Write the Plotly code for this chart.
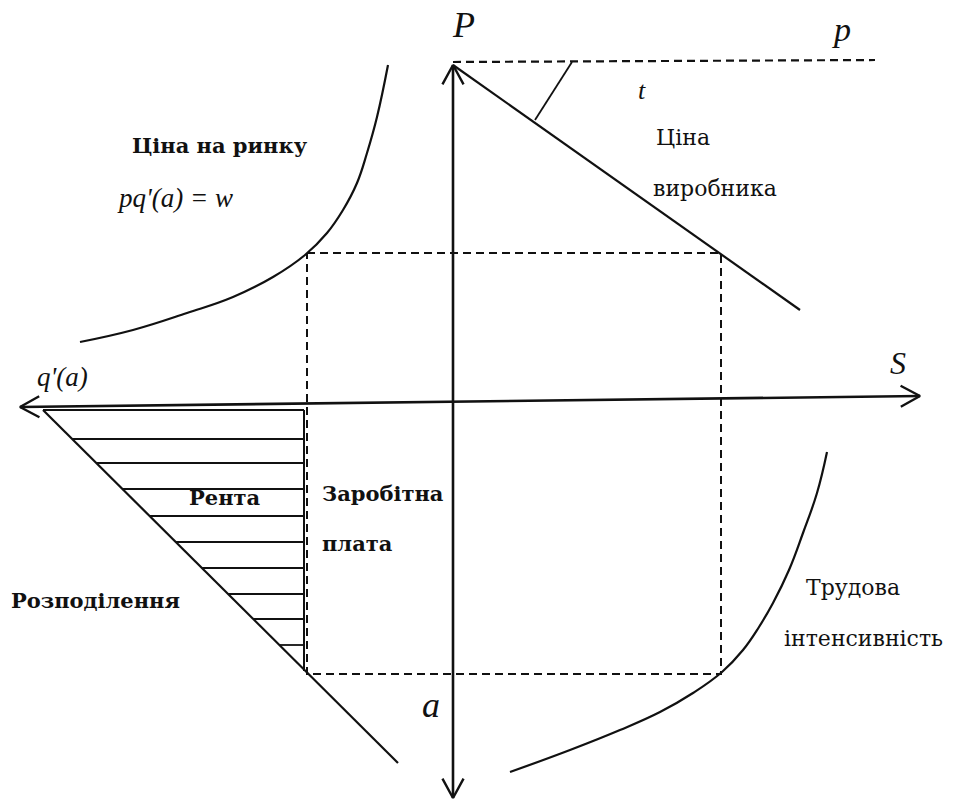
import numpy as np
import plotly.graph_objects as go

# diagram coordinates: origin at the crossing of the axes, y up
axis_v = [(0, 340), (0, -393)]          # P axis (top) / a axis (bottom)
axis_h = [(-433, -2), (467, 9)]         # q'(a) (left) / S (right)

price_line_x = [0, 422]
price_line_y = [343, 345]

producer_x = [0, 347]
producer_y = [340, 95]

angle_mark_x = [119, 82]
angle_mark_y = [343, 285]

market_x = [-373, -320, -266, -220, -180, -148, -126, -110, -96, -86, -76, -65]
market_y = [63, 75, 92, 108, 128, 150, 172, 195, 222, 252, 288, 340]

labour_x = [57, 117, 167, 207, 240, 269, 290, 306, 320, 336, 350, 364, 374]
labour_y = [-367, -345, -325, -307, -288, -267, -245, -222, -198, -165, -128, -88, -47]

distribution_x = [-410, -55]
distribution_y = [-5, -358]

rect_x = [-146, 268, 268, -146, -146]
rect_y = [152, 152, -269, -269, 152]

wage_edge_x = -149
hatch_levels = [-5, -34, -58, -84, -111, -137, -163, -189, -214, -240]

# (text, x, y, size, style)
labels = [
    ("P", 10, 380, 36, "italic"),
    ("p", 388, 376, 34, "italic"),
    ("S", 445, 42, 32, "italic"),
    ("a", -22, -300, 36, "italic"),
    ("q'(a)", -391, 28, 27, "italic"),
    ("t", 189, 315, 26, "italic"),
    ("Ціна на ринку", -233, 260, 21, "bold"),
    ("pq'(a) = w", -278, 207, 27, "italic"),
    ("Ціна", 230, 268, 22, "normal"),
    ("виробника", 262, 217, 22, "normal"),
    ("Рента", -228, -92, 21, "bold"),
    ("Заробітна", -70, -88, 21, "bold"),
    ("плата", -96, -138, 21, "bold"),
    ("Розподілення", -358, -195, 21, "bold"),
    ("Трудова", 400, -182, 22, "normal"),
    ("інтенсивність", 410, -233, 22, "normal"),
]

INK = "#111111"
fig = go.Figure()


def line(x, y, width=2.2, dash="solid", shape="linear"):
    fig.add_trace(go.Scatter(x=x, y=y, mode="lines", hoverinfo="skip",
                             line=dict(color=INK, width=width, dash=dash, shape=shape,
                                       smoothing=1.2 if shape == "spline" else None)))


def arrow_head(tip, tail, size=22, spread=0.5):
    d = np.array(tail, float) - np.array(tip, float)
    ang = np.arctan2(d[1], d[0])
    pts = []
    for s in (spread, -spread):
        pts.append((tip[0] + size * np.cos(ang + s), tip[1] + size * np.sin(ang + s)))
    line([pts[0][0], tip[0], pts[1][0]], [pts[0][1], tip[1], pts[1][1]], width=2.4)


# axes with open arrowheads at both ends
for a in (axis_v, axis_h):
    line([a[0][0], a[1][0]], [a[0][1], a[1][1]], width=2.6)
    arrow_head(a[0], a[1])
    arrow_head(a[1], a[0])

line(price_line_x, price_line_y, dash="8px,5px")
line(producer_x, producer_y)
line(angle_mark_x, angle_mark_y, width=1.8)
line(market_x, market_y, shape="spline")
line(labour_x, labour_y, shape="spline")
line(distribution_x, distribution_y)
line(rect_x, rect_y, dash="8px,5px", width=2)

# hatched rent triangle
dx = np.interp(hatch_levels, distribution_y[::-1], distribution_x[::-1])
for yv, xv in zip(hatch_levels, dx):
    line([xv, wage_edge_x], [yv, yv], width=1.8)
line([wage_edge_x, wage_edge_x], [hatch_levels[0], -266], width=2)

for text, x, y, size, style in labels:
    if style == "italic":
        font = dict(family="Liberation Serif", size=size, color=INK, style="italic")
    else:
        font = dict(family="DejaVu Serif", size=size, color=INK, weight=style)
    fig.add_annotation(x=x, y=y, text=text, showarrow=False, font=font)

fig.update_layout(
    width=957, height=800,
    margin=dict(l=0, r=0, t=0, b=0),
    paper_bgcolor="white", plot_bgcolor="white",
    showlegend=False,
    xaxis=dict(range=[-453, 504], visible=False, fixedrange=True),
    yaxis=dict(range=[-395, 405], visible=False, fixedrange=True),
)

fig.write_html("out.html", config={"displayModeBar": False},
               post_script="document.body.style.margin='0';")
